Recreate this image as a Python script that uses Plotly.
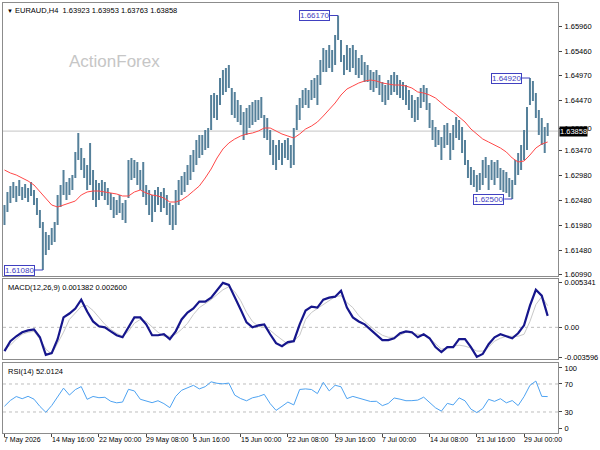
import plotly.graph_objects as go

# EURAUD H4, one slot = two H4 bars (high / low)
bar_high = [
    1.6238, 1.6264, 1.6276, 1.6284, 1.6276, 1.6288, 1.6274, 1.6280, 1.6272, 1.6284,
    1.6268, 1.6252, 1.6228, 1.6204, 1.6184, 1.6178, 1.6192, 1.6204, 1.6258, 1.6278,
    1.6308, 1.6284, 1.6292, 1.6298, 1.6344, 1.6382, 1.6352, 1.6332, 1.6318, 1.6362,
    1.6308, 1.6288, 1.6282, 1.6288, 1.6284, 1.6272, 1.6262, 1.6254, 1.6248, 1.6258,
    1.6242, 1.6248, 1.6328, 1.6332, 1.6328, 1.6324, 1.6308, 1.6324, 1.6278, 1.6268,
    1.6258, 1.6268, 1.6274, 1.6264, 1.6272, 1.6258, 1.6242, 1.6238, 1.6268, 1.6288,
    1.6296, 1.6304, 1.6318, 1.6338, 1.6348, 1.6368, 1.6378, 1.6378, 1.6388, 1.6392,
    1.6458, 1.6462, 1.6458, 1.6492, 1.6508, 1.6512, 1.6518, 1.6472, 1.6464, 1.6448,
    1.6438, 1.6424, 1.6432, 1.6438, 1.6444, 1.6448, 1.6448, 1.6454, 1.6418, 1.6412,
    1.6388, 1.6368, 1.6358, 1.6368, 1.6362, 1.6368, 1.6372, 1.6358, 1.6392, 1.6438,
    1.6452, 1.6468, 1.6472, 1.6468, 1.6488, 1.6492, 1.6498, 1.6528, 1.6552, 1.6548,
    1.6558, 1.6548, 1.6578, 1.6617, 1.6568, 1.6538, 1.6558, 1.6552, 1.6558, 1.6548,
    1.6532, 1.6538, 1.6524, 1.6518, 1.6508, 1.6504, 1.6508, 1.6498, 1.6484, 1.6478,
    1.6488, 1.6498, 1.6504, 1.6498, 1.6488, 1.6484, 1.6478, 1.6468, 1.6458, 1.6448,
    1.6454, 1.6472, 1.6478, 1.6472, 1.6442, 1.6408, 1.6394, 1.6388, 1.6374, 1.6398,
    1.6402, 1.6382, 1.6398, 1.6414, 1.6408, 1.6394, 1.6368, 1.6328, 1.6314, 1.6308,
    1.6298, 1.6302, 1.6328, 1.6334, 1.6318, 1.6328, 1.6324, 1.6328, 1.6312, 1.6308,
    1.6304, 1.6292, 1.6288, 1.6328, 1.6342, 1.6358, 1.6388, 1.6434, 1.6492, 1.6486,
    1.6462, 1.6428, 1.6412, 1.6394, 1.6402,
]
bar_low = [
    1.6198, 1.6224, 1.6242, 1.6252, 1.6244, 1.6256, 1.6248, 1.6252, 1.6244, 1.6256,
    1.6238, 1.6218, 1.6192, 1.6108, 1.6138, 1.6148, 1.6158, 1.6164, 1.6198, 1.6234,
    1.6258, 1.6248, 1.6258, 1.6268, 1.6292, 1.6328, 1.6308, 1.6292, 1.6268, 1.6278,
    1.6248, 1.6234, 1.6248, 1.6256, 1.6248, 1.6238, 1.6228, 1.6212, 1.6218, 1.6222,
    1.6208, 1.6202, 1.6252, 1.6288, 1.6292, 1.6278, 1.6268, 1.6254, 1.6238, 1.6218,
    1.6204, 1.6224, 1.6238, 1.6224, 1.6232, 1.6218, 1.6198, 1.6188, 1.6198, 1.6238,
    1.6258, 1.6264, 1.6278, 1.6288, 1.6304, 1.6318, 1.6332, 1.6338, 1.6348, 1.6352,
    1.6388, 1.6412, 1.6408, 1.6438, 1.6458, 1.6464, 1.6472, 1.6418, 1.6412, 1.6404,
    1.6398, 1.6368, 1.6378, 1.6392, 1.6398, 1.6404, 1.6408, 1.6412, 1.6372, 1.6368,
    1.6338, 1.6318, 1.6308, 1.6328, 1.6318, 1.6332, 1.6328, 1.6312, 1.6318, 1.6388,
    1.6408, 1.6432, 1.6438, 1.6432, 1.6448, 1.6452, 1.6438, 1.6478, 1.6504, 1.6504,
    1.6512, 1.6504, 1.6518, 1.6568, 1.6524, 1.6498, 1.6508, 1.6504, 1.6512, 1.6498,
    1.6492, 1.6498, 1.6484, 1.6484, 1.6468, 1.6464, 1.6472, 1.6458, 1.6444, 1.6438,
    1.6448, 1.6458, 1.6464, 1.6458, 1.6452, 1.6448, 1.6438, 1.6428, 1.6412, 1.6404,
    1.6408, 1.6432, 1.6444, 1.6428, 1.6392, 1.6368, 1.6354, 1.6358, 1.6328, 1.6352,
    1.6358, 1.6328, 1.6348, 1.6372, 1.6368, 1.6342, 1.6318, 1.6292, 1.6278, 1.6274,
    1.6264, 1.6268, 1.6278, 1.6292, 1.6268, 1.6288, 1.6278, 1.6292, 1.6268, 1.6264,
    1.6262, 1.6254, 1.6250, 1.6278, 1.6298, 1.6308, 1.6328, 1.6348, 1.6438, 1.6446,
    1.6412, 1.6378, 1.6358, 1.6342, 1.6376,
]

# red moving average, MACD and RSI, one value every second slot
ma_line = [
    1.6308, 1.6302, 1.6298, 1.6292, 1.6286, 1.6278, 1.6264, 1.6250, 1.6238, 1.6234,
    1.6238, 1.6242, 1.6246, 1.6258, 1.6264, 1.6266, 1.6266, 1.6264, 1.6262, 1.6260,
    1.6256, 1.6256, 1.6264, 1.6268, 1.6262, 1.6258, 1.6256, 1.6252, 1.6244, 1.6244,
    1.6248, 1.6256, 1.6266, 1.6276, 1.6292, 1.6310, 1.6332, 1.6350, 1.6362, 1.6370,
    1.6376, 1.6380, 1.6382, 1.6386, 1.6392, 1.6392, 1.6386, 1.6380, 1.6376, 1.6372,
    1.6380, 1.6390, 1.6396, 1.6404, 1.6416, 1.6428, 1.6442, 1.6458, 1.6470, 1.6476,
    1.6482, 1.6486, 1.6488, 1.6486, 1.6482, 1.6480, 1.6478, 1.6478, 1.6476, 1.6472,
    1.6464, 1.6462, 1.6458, 1.6452, 1.6442, 1.6432, 1.6424, 1.6414, 1.6404, 1.6390,
    1.6380, 1.6370, 1.6364, 1.6358, 1.6352, 1.6344, 1.6332, 1.6324, 1.6326, 1.6338,
    1.6352, 1.6360, 1.6364,
]
macd_main = [
    -0.00285, -0.00166, -0.00107, -0.00059, -0.00036, -0.00024, -0.00119, -0.00330, -0.00310, -0.00142,
    0.00119, 0.00166, 0.00226, 0.00332, 0.00190, 0.00071, 0.00012, 0.00000, -0.00048, -0.00095,
    -0.00119, 0.00000, 0.00119, 0.00119, 0.00036, -0.00095, -0.00095, -0.00083, -0.00142, -0.00048,
    0.00095, 0.00178, 0.00226, 0.00309, 0.00309, 0.00356, 0.00451, 0.00534, 0.00510, 0.00368,
    0.00214, 0.00059, 0.00000, 0.00024, 0.00036, -0.00083, -0.00190, -0.00226, -0.00178, -0.00166,
    0.00036, 0.00202, 0.00249, 0.00237, 0.00332, 0.00356, 0.00368, 0.00440, 0.00237, 0.00119,
    0.00071, 0.00036, -0.00024, -0.00095, -0.00154, -0.00154, -0.00131, -0.00071, -0.00048, -0.00059,
    -0.00119, -0.00083, -0.00131, -0.00237, -0.00297, -0.00237, -0.00237, -0.00142, -0.00142, -0.00237,
    -0.00355, -0.00320, -0.00202, -0.00119, -0.00083, -0.00107, -0.00131, -0.00071, 0.00024, 0.00261,
    0.00451, 0.00380, 0.00138,
]
macd_signal = [
    -0.00261, -0.00214, -0.00142, -0.00083, -0.00059, -0.00048, -0.00142, -0.00261, -0.00321, -0.00190,
    -0.00059, 0.00095, 0.00178, 0.00249, 0.00261, 0.00202, 0.00119, 0.00036, -0.00024, -0.00071,
    -0.00107, -0.00048, 0.00048, 0.00095, 0.00071, 0.00000, -0.00059, -0.00107, -0.00107, -0.00083,
    -0.00024, 0.00048, 0.00154, 0.00237, 0.00285, 0.00332, 0.00392, 0.00451, 0.00487, 0.00427,
    0.00321, 0.00178, 0.00071, 0.00012, 0.00000, -0.00036, -0.00095, -0.00154, -0.00202, -0.00166,
    -0.00095, 0.00095, 0.00178, 0.00226, 0.00273, 0.00321, 0.00368, 0.00380, 0.00297, 0.00237,
    0.00142, 0.00071, 0.00012, -0.00048, -0.00095, -0.00119, -0.00119, -0.00095, -0.00059, -0.00071,
    -0.00083, -0.00095, -0.00131, -0.00202, -0.00261, -0.00249, -0.00226, -0.00214, -0.00226, -0.00249,
    -0.00285, -0.00285, -0.00237, -0.00166, -0.00131, -0.00107, -0.00107, -0.00107, -0.00083, 0.00071,
    0.00273, 0.00368, 0.00260,
]
rsi_line = [
    38.2, 46.5, 52.1, 49.0, 52.4, 48.3, 38.0, 29.6, 39.2, 52.3,
    64.1, 54.2, 62.0, 66.3, 48.1, 52.2, 50.4, 51.0, 45.3, 43.1,
    44.2, 62.4, 60.1, 48.2, 46.0, 43.3, 46.1, 42.0, 36.2, 52.3,
    61.0, 64.2, 68.1, 63.0, 66.2, 73.1, 71.0, 70.2, 71.3, 54.1,
    49.2, 46.0, 50.3, 52.1, 55.2, 42.0, 32.3, 38.1, 44.2, 40.1,
    62.2, 63.0, 62.1, 56.3, 72.4, 60.1, 68.2, 66.0, 49.1, 52.3,
    50.1, 47.2, 45.0, 45.3, 39.1, 42.2, 50.0, 48.3, 46.1, 46.2,
    47.0, 51.2, 44.1, 36.0, 31.2, 42.3, 40.1, 50.2, 46.0, 34.1,
    29.2, 35.0, 48.1, 45.2, 49.0, 43.1, 46.3, 39.2, 52.0, 68.1,
    74.2, 52.3, 52.0124,
]

last_close = 1.63858
header_text = "EURAUD,H4  1.63923 1.63953 1.63763 1.63858"
macd_text = "MACD(12,26,9) 0.001382 0.002600"
rsi_text = "RSI(14) 52.0124"

date_slots = [0, 16, 32, 48, 64, 80, 96, 112, 128, 144, 160, 176]
date_labels = ["7 May 2026", "14 May 16:00", "22 May 00:00", "29 May 08:00",
               "5 Jun 16:00", "15 Jun 00:00", "22 Jun 08:00", "29 Jun 16:00",
               "7 Jul 00:00", "14 Jul 08:00", "21 Jul 16:00", "29 Jul 00:00"]
price_ticks = [1.6596, 1.6546, 1.6497, 1.6447, 1.6392, 1.6347,
               1.6298, 1.6248, 1.6198, 1.6148, 1.6099]
macd_ticks = [0.005341, 0.0, -0.003596]
macd_tick_text = ["0.005341", "0.00", "-0.003596"]
# MT4 nudges the 100 / 0 labels inside the window
rsi_ticks = [93, 70, 30, 6]
rsi_tick_text = ["100", "70", "30", "0"]
rsi_levels = [70, 30]

swing_slots = [13, 113, 172, 178]
swing_kind = ["low", "high", "low", "high"]

slots = list(range(len(bar_high)))
line_slots = slots[::2]

FONT = "Liberation Sans"
FRAME = "#8c8c8c"
BAR = "#55809a"
LABEL = "#4040c0"

# vertical high-low sticks
bx, by = [], []
for i, (h, l) in enumerate(zip(bar_high, bar_low)):
    bx += [i, i, None]
    by += [l, h, None]

fig = go.Figure()
fig.add_trace(go.Scatter(x=bx, y=by, mode="lines", line=dict(color=BAR, width=2),
                         xaxis="x", yaxis="y"))
fig.add_trace(go.Scatter(x=line_slots, y=ma_line, mode="lines",
                         line=dict(color="#ff4848", width=1), xaxis="x", yaxis="y"))
fig.add_trace(go.Scatter(x=line_slots, y=macd_signal, mode="lines",
                         line=dict(color="#c8c8c8", width=1), xaxis="x2", yaxis="y2"))
fig.add_trace(go.Scatter(x=line_slots, y=macd_main, mode="lines",
                         line=dict(color="#16168c", width=2.2), xaxis="x2", yaxis="y2"))
fig.add_trace(go.Scatter(x=line_slots, y=rsi_line, mode="lines",
                         line=dict(color="#4ea3f2", width=1), xaxis="x3", yaxis="y3"))

xcommon = dict(range=[-0.5, 187.5], showgrid=False, zeroline=False, showline=True, mirror=True,
               linecolor=FRAME, linewidth=1, showticklabels=False, ticks="")
ycommon = dict(side="right", showgrid=False, zeroline=False, showline=True, mirror=True,
               linecolor=FRAME, linewidth=1, ticks="outside", ticklen=3, tickcolor="#444",
               ticklabelstandoff=1,
               tickfont=dict(family=FONT, size=7.5, color="black"))

fig.update_layout(
    width=600, height=450,
    margin=dict(l=2, r=34, t=3, b=17),
    paper_bgcolor="white", plot_bgcolor="white",
    showlegend=False, hovermode=False,
    xaxis=dict(xcommon, anchor="y"),
    xaxis2=dict(xcommon, anchor="y2", matches="x"),
    xaxis3=dict(xcommon, anchor="y3", matches="x", ticks="outside", ticklen=3,
                tickcolor="#444", tickvals=date_slots),
    yaxis=dict(ycommon, domain=[0.3651, 1.0], range=[1.6096, 1.6642],
               tickvals=price_ticks, tickformat=".5f"),
    yaxis2=dict(ycommon, domain=[0.1721, 0.3581], range=[-0.0038, 0.0058],
                tickvals=macd_ticks, ticktext=macd_tick_text),
    yaxis3=dict(ycommon, domain=[0.0, 0.1628], range=[0, 100],
                tickvals=rsi_ticks, ticktext=rsi_tick_text),
)

# current price line, MACD zero, RSI levels
fig.add_shape(type="line", xref="x domain", x0=0, x1=1, yref="y", y0=last_close, y1=last_close,
              line=dict(color="#c4c4c4", width=1), layer="below")
fig.add_shape(type="line", xref="x2 domain", x0=0, x1=1, yref="y2", y0=0, y1=0,
              line=dict(color="#bdbdbd", width=1, dash="dot"), layer="below")
for lvl in rsi_levels:
    fig.add_shape(type="line", xref="x3 domain", x0=0, x1=1, yref="y3", y0=lvl, y1=lvl,
                  line=dict(color="#bdbdbd", width=1, dash="dot"), layer="below")

fig.add_annotation(xref="paper", x=1, yref="y", y=last_close, text=f"{last_close:.5f}",
                   showarrow=False, xanchor="left", xshift=1, bgcolor="black", borderpad=0,
                   font=dict(family=FONT, size=7.5, color="white"))

# swing high / low tags
for slot, kind in zip(swing_slots, swing_kind):
    price = bar_high[slot] if kind == "high" else bar_low[slot]
    fig.add_annotation(xref="x", x=slot, yref="y", y=price, text=f"{price:.5f}", showarrow=False,
                       xanchor="right", xshift=-8, bgcolor="white", bordercolor=LABEL,
                       borderwidth=1, borderpad=0, font=dict(family=FONT, size=8, color=LABEL))
    fig.add_shape(type="line", xref="x", xsizemode="pixel", xanchor=slot, x0=-8, x1=0,
                  yref="y", y0=price, y1=price, line=dict(color=LABEL, width=1))

fig.add_annotation(xref="paper", x=0, yref="paper", y=1, xanchor="left", yanchor="top",
                   xshift=2, yshift=-1, showarrow=False,
                   text="<span style='font-size:6px'>▼</span> " + header_text,
                   font=dict(family=FONT, size=7.5, color="black"))
fig.add_annotation(xref="paper", x=0.2004, yref="paper", y=0.8651, text="ActionForex",
                   xanchor="center", yanchor="middle",
                   showarrow=False, font=dict(family=FONT, size=17, color="#c6c6c6"))
fig.add_annotation(xref="paper", x=0, yref="paper", y=0.3581, xanchor="left", yanchor="top",
                   xshift=3, yshift=-2, showarrow=False, text=macd_text,
                   font=dict(family=FONT, size=7.5, color="black"))
fig.add_annotation(xref="paper", x=0, yref="paper", y=0.1628, xanchor="left", yanchor="top",
                   xshift=3, yshift=-2, showarrow=False, text=rsi_text,
                   font=dict(family=FONT, size=7.5, color="black"))

for slot, label in zip(date_slots, date_labels):
    fig.add_annotation(xref="x3", x=slot, yref="paper", y=0, xanchor="left", yanchor="top",
                       xshift=-2, yshift=-1, showarrow=False, text=label,
                       font=dict(family=FONT, size=7, color="black"))

# page body has a default 8px margin; drop it so the chart sits at the window corner
fig.write_html("out.html", config={"displayModeBar": False},
               post_script="document.body.style.margin='0';")
